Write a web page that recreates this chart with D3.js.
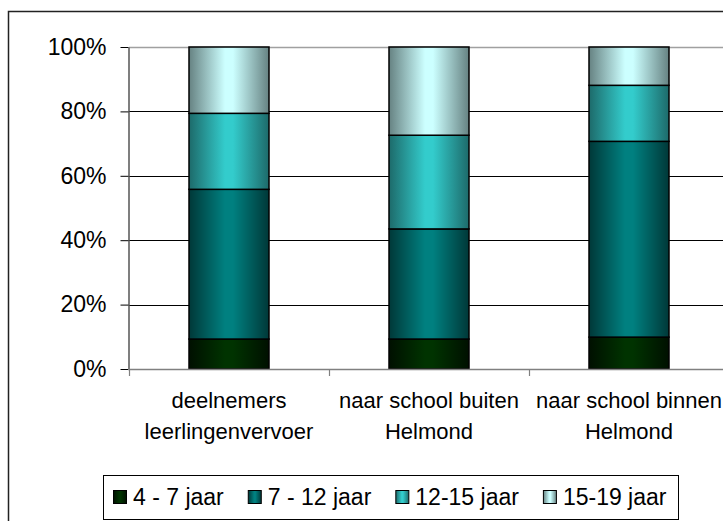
<!DOCTYPE html>
<html>
<head>
<meta charset="utf-8">
<script src="https://cdn.jsdelivr.net/npm/d3@7"></script>
<style>
  html, body { margin: 0; padding: 0; background: #fff; }
  svg { display: block; }
  text { font-family: "Liberation Sans", Arial, sans-serif; fill: #000; }
</style>
</head>
<body>
<svg id="chart" width="723" height="521"></svg>
<script>
// Age distribution of pupils per transport group (share of each group, stacked to 100%)
const categories = ["deelnemers leerlingenvervoer", "naar school buiten Helmond", "naar school binnen Helmond"];
const categoryLines = [["deelnemers", "leerlingenvervoer"], ["naar school buiten", "Helmond"], ["naar school binnen", "Helmond"]];
const seriesNames = ["4 - 7 jaar", "7 - 12 jaar", "12-15 jaar", "15-19 jaar"];
const age4to7 = [9.3, 9.3, 9.9];
const age7to12 = [46.5, 34.2, 60.8];
const age12to15 = [23.6, 29.1, 17.4];
const age15to19 = [20.6, 27.4, 11.9];
const yTickValues = [0, 0.2, 0.4, 0.6, 0.8, 1];
const yTickLabels = ["0%", "20%", "40%", "60%", "80%", "100%"];

// base (centre) and edge colours of the horizontal bar gradients
const centreColors = ["#003300", "#008080", "#33CCCC", "#CCFFFF"];
const edgeColors = ["#001000", "#003838", "#1d6a6a", "#668282"];

const seriesValues = [age4to7, age7to12, age12to15, age15to19];
const rows = categories.map((c, i) => {
  const r = { category: c };
  seriesNames.forEach((s, k) => { r[s] = seriesValues[k][i]; });
  return r;
});

const svg = d3.select("#chart");
const tickFont = 23;
const catFont = 22;
const legendFont = 23;

// outer chart frame
svg.append("rect")
  .attr("x", 8.5).attr("y", 11.5)
  .attr("width", 800).attr("height", 600)
  .attr("fill", "none").attr("stroke", "#222").attr("stroke-width", 1.5);

const plot = { left: 129, right: 729, top: 47, bottom: 369 };

const x = d3.scaleBand()
  .domain(categories)
  .range([plot.left, plot.right])
  .paddingInner(0.6)
  .paddingOuter(0.3);

const y = d3.scaleLinear().domain([0, 1]).range([plot.bottom, plot.top]);

// gradients
const defs = svg.append("defs");
seriesNames.forEach((s, k) => {
  const g = defs.append("linearGradient")
    .attr("id", "grad" + k)
    .attr("x1", "0%").attr("x2", "100%").attr("y1", "0%").attr("y2", "0%");
  g.append("stop").attr("offset", "0%").attr("stop-color", edgeColors[k]);
  g.append("stop").attr("offset", "45%").attr("stop-color", centreColors[k]);
  g.append("stop").attr("offset", "55%").attr("stop-color", centreColors[k]);
  g.append("stop").attr("offset", "100%").attr("stop-color", edgeColors[k]);
});

// gridlines
svg.append("g")
  .selectAll("line")
  .data(yTickValues.filter(v => v > 0 && v < 1))
  .join("line")
  .attr("x1", plot.left).attr("x2", plot.right)
  .attr("y1", d => Math.round(y(d)) + 0.5).attr("y2", d => Math.round(y(d)) + 0.5)
  .attr("stroke", "#000").attr("stroke-width", 1);

// plot area top border
svg.append("line")
  .attr("x1", plot.left).attr("x2", plot.right)
  .attr("y1", plot.top + 0.5).attr("y2", plot.top + 0.5)
  .attr("stroke", "#a0a0a0").attr("stroke-width", 1.5);

// stacked bars
const stack = d3.stack().keys(seriesNames).offset(d3.stackOffsetExpand);
const stacked = stack(rows);

svg.append("g")
  .selectAll("g")
  .data(stacked)
  .join("g")
  .attr("fill", (d, k) => `url(#grad${k})`)
  .selectAll("rect")
  .data(d => d)
  .join("rect")
  .attr("x", d => x(d.data.category))
  .attr("width", x.bandwidth())
  .attr("y", d => y(d[1]))
  .attr("height", d => y(d[0]) - y(d[1]))
  .attr("stroke", "#000")
  .attr("stroke-width", 1.5);

// y axis
const yAxis = d3.axisLeft(y)
  .tickValues(yTickValues)
  .tickFormat((d, i) => yTickLabels[i])
  .tickSize(8)
  .tickSizeOuter(0)
  .tickPadding(14);
const yg = svg.append("g")
  .attr("transform", `translate(${plot.left - 0.5},0)`)
  .call(yAxis);
yg.select(".domain").attr("stroke", "#555").attr("stroke-width", 1.5);
yg.selectAll(".tick line").attr("stroke", "#000");
yg.selectAll(".tick text")
  .style("font-family", "Liberation Sans, Arial, sans-serif")
  .style("font-size", tickFont + "px")
  .attr("fill", "#000");

// x axis: ticks at category boundaries
const xAxisLine = svg.append("g");
xAxisLine.append("line")
  .attr("x1", plot.left - 1).attr("x2", plot.right)
  .attr("y1", plot.bottom + 0.5).attr("y2", plot.bottom + 0.5)
  .attr("stroke", "#808080").attr("stroke-width", 1.5);
const boundaries = categories.slice(1).map(c => x(c) - x.step() * x.paddingInner() / 2);
boundaries.unshift(plot.left);
xAxisLine.selectAll("line.tick")
  .data(boundaries)
  .join("line")
  .attr("class", "tick")
  .attr("x1", d => Math.round(d) + 0.5).attr("x2", d => Math.round(d) + 0.5)
  .attr("y1", plot.bottom).attr("y2", plot.bottom + 7)
  .attr("stroke", "#808080").attr("stroke-width", 1.2);

// category labels
const catLabels = svg.append("g")
  .selectAll("text")
  .data(categories)
  .join("text")
  .attr("text-anchor", "middle")
  .style("font-size", catFont + "px")
  .attr("x", d => x(d) + x.bandwidth() / 2);
catLabels.each(function (d, i) {
  const t = d3.select(this);
  categoryLines[i].forEach((line, j) => {
    t.append("tspan")
      .attr("x", x(d) + x.bandwidth() / 2)
      .attr("y", 408 + j * 31)
      .text(line);
  });
});

// legend
const legend = svg.append("g");
legend.append("rect")
  .attr("x", 103.5).attr("y", 475.5)
  .attr("width", 575).attr("height", 44)
  .attr("fill", "#fff").attr("stroke", "#000").attr("stroke-width", 1);

let lx = 113;
seriesNames.forEach((s, k) => {
  legend.append("rect")
    .attr("x", lx + 0.5).attr("y", 490.5)
    .attr("width", 13).attr("height", 13)
    .attr("fill", `url(#grad${k})`)
    .attr("stroke", "#000").attr("stroke-width", 1);
  const t = legend.append("text")
    .attr("x", lx + 20).attr("y", 505)
    .style("font-size", legendFont + "px")
    .text(s);
  lx += 20 + t.node().getComputedTextLength() + 24;
});
</script>
</body>
</html>
